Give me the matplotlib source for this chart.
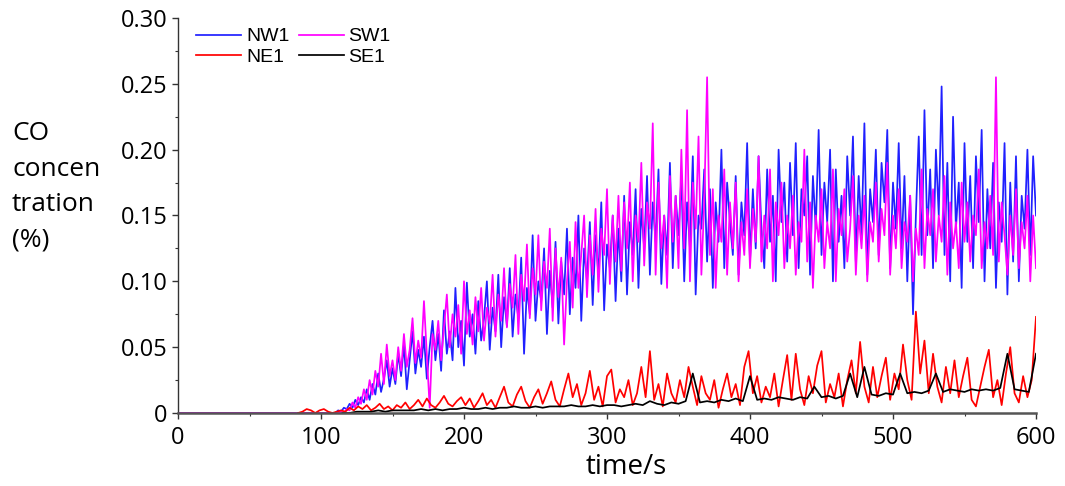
import numpy as np
import matplotlib
matplotlib.use("Agg")
import matplotlib.pyplot as plt
from matplotlib.ticker import MultipleLocator, FuncFormatter

# sample times (s)
t_fast = np.concatenate([[0], np.arange(110, 601, 2)])
t_ne = np.arange(84, 601, 3)
t_se = np.arange(115, 601, 5)

nw1 = [0.0,
    0.000, 0.002, 0.001, 0.004, 0.003, 0.007, 0.004, 0.010, 0.006, 0.012,
    0.008, 0.018, 0.010, 0.022, 0.014, 0.030, 0.016, 0.026, 0.040, 0.020,
    0.034, 0.022, 0.045, 0.028, 0.052, 0.018, 0.040, 0.062, 0.030, 0.048,
    0.035, 0.058, 0.026, 0.050, 0.070, 0.040, 0.060, 0.032, 0.078, 0.045,
    0.062, 0.040, 0.095, 0.050, 0.070, 0.036, 0.099, 0.058, 0.075, 0.045,
    0.085, 0.055, 0.072, 0.100, 0.048, 0.080, 0.062, 0.105, 0.050, 0.088,
    0.066, 0.110, 0.058, 0.090, 0.072, 0.118, 0.045, 0.095, 0.075, 0.135,
    0.070, 0.100, 0.085, 0.125, 0.060, 0.108, 0.080, 0.130, 0.068, 0.115,
    0.090, 0.140, 0.075, 0.118, 0.095, 0.150, 0.070, 0.125, 0.100, 0.145,
    0.082, 0.135, 0.105, 0.160, 0.078, 0.128, 0.110, 0.150, 0.085, 0.140,
    0.100, 0.165, 0.090, 0.145, 0.120, 0.170, 0.095, 0.155, 0.125, 0.180,
    0.105, 0.160, 0.130, 0.185, 0.098, 0.150, 0.120, 0.190, 0.110, 0.165,
    0.135, 0.180, 0.100, 0.160, 0.125, 0.195, 0.090, 0.150, 0.140, 0.185,
    0.115, 0.170, 0.095, 0.160, 0.130, 0.200, 0.110, 0.175, 0.145, 0.120,
    0.180, 0.105, 0.160, 0.135, 0.205, 0.115, 0.170, 0.125, 0.195, 0.140,
    0.110, 0.185, 0.130, 0.165, 0.100, 0.200, 0.145, 0.175, 0.115, 0.190,
    0.135, 0.205, 0.110, 0.170, 0.150, 0.195, 0.105, 0.180, 0.140, 0.215,
    0.120, 0.175, 0.145, 0.200, 0.100, 0.185, 0.130, 0.165, 0.110, 0.195,
    0.150, 0.210, 0.115, 0.180, 0.135, 0.220, 0.105, 0.170, 0.145, 0.200,
    0.120, 0.190, 0.160, 0.215, 0.110, 0.175, 0.140, 0.205, 0.125, 0.180,
    0.100, 0.165, 0.075, 0.150, 0.210, 0.120, 0.230, 0.135, 0.185, 0.110,
    0.200, 0.150, 0.248, 0.120, 0.190, 0.100, 0.225, 0.140, 0.175, 0.095,
    0.205, 0.130, 0.180, 0.110, 0.195, 0.145, 0.215, 0.100, 0.170, 0.125,
    0.190, 0.095, 0.160, 0.130, 0.205, 0.090, 0.175, 0.115, 0.195, 0.100,
    0.165, 0.140, 0.200, 0.120, 0.195, 0.150]

sw1 = [0.0,
    0.000, 0.000, 0.001, 0.000, 0.003, 0.002, 0.008, 0.004, 0.012, 0.007,
    0.018, 0.010, 0.025, 0.014, 0.032, 0.020, 0.045, 0.022, 0.052, 0.028,
    0.040, 0.025, 0.050, 0.032, 0.060, 0.035, 0.048, 0.072, 0.038, 0.055,
    0.042, 0.085, 0.045, 0.004, 0.060, 0.048, 0.070, 0.040, 0.065, 0.090,
    0.050, 0.075, 0.058, 0.082, 0.045, 0.100, 0.060, 0.078, 0.052, 0.088,
    0.062, 0.095, 0.055, 0.080, 0.068, 0.105, 0.058, 0.090, 0.070, 0.110,
    0.065, 0.098, 0.080, 0.120, 0.060, 0.105, 0.085, 0.128, 0.072, 0.110,
    0.090, 0.135, 0.078, 0.115, 0.095, 0.140, 0.070, 0.125, 0.088, 0.118,
    0.052, 0.100, 0.130, 0.080, 0.145, 0.095, 0.120, 0.150, 0.088, 0.135,
    0.105, 0.155, 0.092, 0.140, 0.120, 0.170, 0.098, 0.150, 0.115, 0.165,
    0.108, 0.160, 0.125, 0.175, 0.100, 0.150, 0.130, 0.190, 0.112, 0.160,
    0.140, 0.220, 0.105, 0.175, 0.125, 0.150, 0.095, 0.180, 0.130, 0.165,
    0.110, 0.200, 0.125, 0.230, 0.100, 0.175, 0.140, 0.210, 0.105, 0.160,
    0.255, 0.120, 0.170, 0.095, 0.150, 0.130, 0.185, 0.105, 0.160, 0.125,
    0.175, 0.100, 0.145, 0.120, 0.170, 0.110, 0.155, 0.130, 0.195, 0.115,
    0.150, 0.125, 0.185, 0.100, 0.160, 0.135, 0.175, 0.110, 0.150, 0.125,
    0.165, 0.105, 0.145, 0.130, 0.200, 0.115, 0.160, 0.095, 0.150, 0.130,
    0.170, 0.110, 0.145, 0.125, 0.185, 0.100, 0.155, 0.135, 0.170, 0.115,
    0.140, 0.180, 0.105, 0.150, 0.125, 0.165, 0.100, 0.145, 0.130, 0.175,
    0.115, 0.155, 0.135, 0.190, 0.105, 0.150, 0.125, 0.170, 0.110, 0.145,
    0.130, 0.165, 0.100, 0.140, 0.120, 0.185, 0.110, 0.155, 0.135, 0.170,
    0.115, 0.150, 0.130, 0.180, 0.105, 0.160, 0.125, 0.145, 0.110, 0.175,
    0.130, 0.160, 0.115, 0.150, 0.135, 0.185, 0.110, 0.145, 0.125, 0.165,
    0.120, 0.255, 0.115, 0.160, 0.135, 0.105, 0.150, 0.120, 0.170, 0.110,
    0.145, 0.125, 0.165, 0.100, 0.150, 0.110]

ne1 = [
    0.000, 0.001, 0.003, 0.002, 0.000, 0.002, 0.003, 0.001, 0.000, 0.001,
    0.002, 0.001, 0.004, 0.002, 0.005, 0.003, 0.006, 0.002, 0.004, 0.007,
    0.003, 0.005, 0.002, 0.006, 0.004, 0.008, 0.003, 0.006, 0.010, 0.005,
    0.011, 0.006, 0.004, 0.008, 0.013, 0.007, 0.005, 0.009, 0.012, 0.006,
    0.011, 0.004, 0.009, 0.015, 0.006, 0.010, 0.004, 0.012, 0.020, 0.008,
    0.005, 0.014, 0.020, 0.009, 0.004, 0.012, 0.018, 0.007, 0.015, 0.024,
    0.010, 0.005, 0.018, 0.030, 0.012, 0.022, 0.006, 0.015, 0.032, 0.010,
    0.020, 0.005, 0.028, 0.033, 0.008, 0.018, 0.012, 0.025, 0.006, 0.015,
    0.035, 0.012, 0.047, 0.010, 0.022, 0.005, 0.030, 0.015, 0.008, 0.025,
    0.012, 0.035, 0.020, 0.006, 0.028, 0.015, 0.010, 0.025, 0.004, 0.018,
    0.030, 0.012, 0.022, 0.006, 0.035, 0.047, 0.015, 0.028, 0.008, 0.020,
    0.012, 0.030, 0.005, 0.025, 0.044, 0.010, 0.045, 0.018, 0.006, 0.028,
    0.015, 0.036, 0.047, 0.008, 0.022, 0.012, 0.030, 0.005, 0.025, 0.040,
    0.015, 0.054, 0.020, 0.008, 0.035, 0.012, 0.028, 0.042, 0.010, 0.030,
    0.018, 0.052, 0.025, 0.010, 0.077, 0.030, 0.055, 0.015, 0.045, 0.020,
    0.008, 0.035, 0.015, 0.040, 0.012, 0.028, 0.042, 0.010, 0.005, 0.020,
    0.035, 0.048, 0.012, 0.025, 0.006, 0.030, 0.050, 0.015, 0.008, 0.028,
    0.012, 0.025, 0.073]

se1 = [
    0.000, 0.000, 0.001, 0.001, 0.001, 0.002, 0.001, 0.002, 0.002, 0.002,
    0.002, 0.003, 0.002, 0.003, 0.002, 0.003, 0.003, 0.004, 0.003, 0.003,
    0.004, 0.003, 0.004, 0.004, 0.005, 0.004, 0.004, 0.005, 0.004, 0.005,
    0.005, 0.005, 0.006, 0.005, 0.005, 0.006, 0.005, 0.006, 0.006, 0.005,
    0.006, 0.007, 0.006, 0.009, 0.007, 0.006, 0.008, 0.007, 0.009, 0.030,
    0.008, 0.009, 0.008, 0.010, 0.009, 0.011, 0.009, 0.028, 0.010, 0.011,
    0.010, 0.012, 0.011, 0.010, 0.012, 0.011, 0.020, 0.012, 0.013, 0.011,
    0.013, 0.030, 0.012, 0.035, 0.014, 0.013, 0.015, 0.014, 0.030, 0.015,
    0.016, 0.015, 0.017, 0.030, 0.016, 0.018, 0.017, 0.016, 0.018, 0.017,
    0.018, 0.017, 0.019, 0.045, 0.018, 0.017, 0.016, 0.045]

fig = plt.figure(figsize=(10.65, 4.86), dpi=100)
ax = fig.add_axes([178 / 1065, 73 / 486, 858 / 1065, 395 / 486])

lw = 1.25
l_nw, = ax.plot(t_fast, nw1, color='#2020ff', lw=lw, label='NW1')
l_sw, = ax.plot(t_fast, sw1, color='#ff00ff', lw=lw, label='SW1')
l_ne, = ax.plot(t_ne, ne1, color='#ff0000', lw=lw, label='NE1')
l_se, = ax.plot(t_se, se1, color='#000000', lw=lw, label='SE1')

ax.set_xlim(0, 600)
ax.set_ylim(0, 0.30)
for s in ['top', 'right']:
    ax.spines[s].set_visible(False)
ax.spines['left'].set_color('#333333')
ax.spines['left'].set_linewidth(1.0)
ax.spines['bottom'].set_linewidth(1.8)
ax.spines['bottom'].set_color('#555555')

ax.xaxis.set_major_locator(MultipleLocator(100))
ax.xaxis.set_minor_locator(MultipleLocator(50))
ax.yaxis.set_major_locator(MultipleLocator(0.05))
ax.yaxis.set_minor_locator(MultipleLocator(0.025))
ax.yaxis.set_major_formatter(FuncFormatter(lambda v, p: '0' if abs(v) < 1e-9 else f'{v:.2f}'))
ax.tick_params(which='major', length=4.5, width=1, labelsize=17, color='#333333')
ax.tick_params(axis='y', which='major', pad=3)
ax.tick_params(axis='x', which='major', pad=5)
ax.tick_params(which='minor', length=2, width=0.8, color='#333333')
for lab in ax.get_xticklabels() + ax.get_yticklabels():
    lab.set_fontfamily('Open Sans')

fig.text(12 / 1065, 1 - 187 / 486, "CO\nconcen\ntration\n(%)", ha='left', va='center',
         fontsize=19, family='Open Sans', linespacing=1.55)
fig.text(626 / 1065, 1 - 467 / 486, "time/s", ha='center', va='center',
         fontsize=20, family='Open Sans')

ax.legend([l_nw, l_ne, l_sw, l_se], ['NW1', 'NE1', 'SW1', 'SE1'], ncol=2,
          loc='upper left', bbox_to_anchor=(0.01, 1.0), frameon=False,
          prop={'family': 'Liberation Sans', 'size': 14},
          handlelength=2.3, handletextpad=0.25, columnspacing=0.5,
          labelspacing=0.15, borderaxespad=0.1)

fig.savefig('out.png', dpi=100)
